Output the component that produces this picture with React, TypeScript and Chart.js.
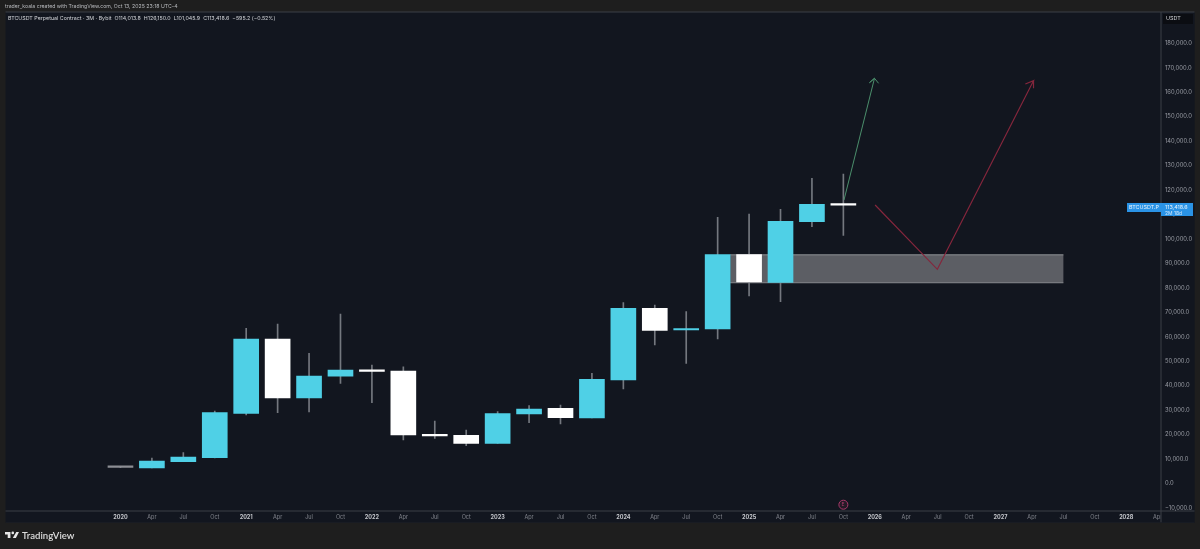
import React, { useEffect, useRef } from "react";
import { Chart, registerables } from "chart.js";

Chart.register(...registerables);

const W = 1200;
const H = 549;
const BLUE = "#4fd0e6";
const WHITE = "#ffffff";
const WICK = "#74787f";

// Quarterly candles, index 0 = the "2020" tick
const opens = [6300, 5930, 8500, 10140, 28300, 58690, 34560, 43440, 46010, 45600, 19710, 19300, 16030, 28020, 30350, 26380, 41920, 71250, 62370, 62780, 93170, 81880, 106680, 114013.8];
const highs = [6450, 10020, 12190, 29240, 63070, 64830, 52840, 68920, 48060, 47360, 25150, 21470, 28960, 31410, 31700, 44660, 73540, 72600, 69860, 108470, 109820, 111740, 124420, 126150];
const lows = [6050, 5930, 8500, 10100, 27600, 28550, 28830, 40570, 32640, 17380, 18080, 15050, 16030, 24460, 23930, 26380, 38240, 56240, 48750, 58690, 76280, 73950, 104620, 101045.9];
const closes = [6200, 8800, 10430, 28550, 58690, 34560, 43560, 46010, 45480, 19430, 19020, 16030, 28140, 30060, 26500, 42210, 71250, 62250, 62900, 93170, 82000, 106830, 113780, 113418.6];

const xTickLabels = ["2020", "Apr", "Jul", "Oct", "2021", "Apr", "Jul", "Oct", "2022", "Apr", "Jul", "Oct", "2023", "Apr", "Jul", "Oct", "2024", "Apr", "Jul", "Oct", "2025", "Apr", "Jul", "Oct", "2026", "Apr", "Jul", "Oct", "2027", "Apr", "Jul", "Oct", "2028", "Apr"];
const yTickValues = [180000, 170000, 160000, 150000, 140000, 130000, 120000, 110000, 100000, 90000, 80000, 70000, 60000, 50000, 40000, 30000, 20000, 10000, 0, -10000];

// Drawings, in axis units (quarter index, price)
const greenArrow = [
  { x: 23.02, y: 115540 },
  { x: 23.99, y: 165320 },
  { x: 23.83, y: 163520 },
  { x: 23.99, y: 165320 },
  { x: 24.12, y: 163270 },
];
const redArrow = [
  { x: 24.01, y: 113500 },
  { x: 25.99, y: 87200 },
  { x: 29.05, y: 164340 },
  { x: 28.79, y: 163000 },
  { x: 29.05, y: 164340 },
  { x: 29.05, y: 161230 },
];
const zone = { xStart: 19.4, xEnd: 30, top: 93300, bottom: 81700 };
const marker = [{ x: 23, y: -9080 }];
const lastPrice = "113,418.6";

const fmtPrice = (v: number) =>
  (v < 0 ? "\u2212" : "") + Math.abs(v).toLocaleString("en-US", { minimumFractionDigits: 1, maximumFractionDigits: 1 });

const FRAME = "#1e1e1e";
const PANEL = "#12161f";
const LINE = "#3b3e46";

const panelPlugin = {
  id: "panel",
  beforeDraw(chart: any) {
    const { ctx, chartArea: a } = chart;
    ctx.save();
    ctx.fillStyle = FRAME;
    ctx.fillRect(0, 0, W, H);
    ctx.fillStyle = PANEL;
    ctx.fillRect(a.left, a.top, 1194.5 - a.left, 522.5 - a.top);
    ctx.restore();
  },
  beforeDatasetsDraw(chart: any) {
    const { ctx, chartArea: a, scales } = chart;
    ctx.save();
    // right strip covers the clipped time label
    ctx.fillStyle = PANEL;
    ctx.fillRect(a.right, a.top, 1194.5 - a.right, 522.5 - a.top);
    ctx.fillStyle = LINE;
    ctx.fillRect(a.left, a.top - 0.5, 1194.5 - a.left, 1);
    ctx.fillRect(a.left, a.bottom, 1194.5 - a.left, 1);
    ctx.fillRect(a.right, a.top, 1, 522.5 - a.top);
    ctx.fillStyle = "#1b1f29";
    ctx.fillRect(a.left, 522, 1194.5 - a.left, 0.5);
    // USDT currency box
    ctx.fillStyle = "#0b0d12";
    ctx.fillRect(1163, 14, 30, 10);
    // zone
    const x0 = scales.x.getPixelForValue(zone.xStart);
    const x1 = scales.x.getPixelForValue(zone.xEnd);
    const y0 = scales.y.getPixelForValue(zone.top);
    const y1 = scales.y.getPixelForValue(zone.bottom);
    ctx.fillStyle = "#5c5e64";
    ctx.fillRect(x0, y0, x1 - x0, y1 - y0);
    ctx.fillStyle = "#86888d";
    ctx.fillRect(x0, y0, x1 - x0, 1);
    ctx.fillRect(x0, y1 - 0.5, x1 - x0, 1);
    ctx.restore();
  },
};

const textBase: React.CSSProperties = {
  position: "absolute",
  whiteSpace: "nowrap",
  fontFamily: "Inter, 'Liberation Sans', sans-serif",
  lineHeight: 1,
};

export default function App() {
  const ref = useRef<HTMLCanvasElement>(null);

  useEffect(() => {
    const idx = opens.map((_, i) => i);
    const bodyColors = idx.map((i) => (closes[i] >= opens[i] ? BLUE : WHITE));
    bodyColors[0] = "#8c8e94";
    const chart = new Chart(ref.current as HTMLCanvasElement, {
      type: "bar",
      data: {
        datasets: [
          {
            type: "bar",
            label: "Wick",
            order: 3,
            grouped: false,
            barThickness: 1,
            backgroundColor: WICK,
            data: idx.map((i) => ({ x: i, y: [lows[i], highs[i]] })),
          },
          {
            type: "bar",
            label: "Body",
            order: 2,
            grouped: false,
            barThickness: 25,
            minBarLength: 1.5,
            backgroundColor: bodyColors,
            data: idx.map((i) => ({ x: i, y: [opens[i], closes[i]] })),
          },
          {
            type: "line",
            label: "Bull path",
            order: 1,
            borderColor: "#4b8f6c",
            borderWidth: 1,
            pointRadius: 0,
            tension: 0,
            data: greenArrow,
          },
          {
            type: "line",
            label: "Bear path",
            order: 1,
            borderColor: "#84263c",
            borderWidth: 1.2,
            pointRadius: 0,
            tension: 0,
            data: redArrow,
          },
          {
            type: "line",
            label: "Marker",
            order: 0,
            showLine: false,
            pointStyle: "circle",
            pointRadius: 4.5,
            pointBorderWidth: 1,
            pointBorderColor: "#a83a6a",
            pointBackgroundColor: "#241a26",
            data: marker,
          },
        ] as any,
      },
      plugins: [panelPlugin],
      options: {
        animation: false,
        responsive: false,
        layout: { padding: { left: 5, top: 12, right: 5.5, bottom: 27 } },
        plugins: { legend: { display: false }, tooltip: { enabled: false } },
        events: [],
        scales: {
          x: {
            type: "linear",
            offset: false,
            min: -3.658,
            max: 33.09,
            grid: { display: false, drawTicks: false },
            border: { display: false },
            afterBuildTicks: (s: any) => {
              s.ticks = xTickLabels.map((_, i) => ({ value: i }));
            },
            afterFit: (s: any) => {
              s.height = 11.5;
            },
            ticks: {
              z: 0,
              autoSkip: false,
              maxRotation: 0,
              padding: 4,
              callback: (v: any) => xTickLabels[v],
              color: (c: any) => (/^\d/.test(xTickLabels[c.tick?.value] || "") ? "#c4c6cb" : "#83868e"),
              font: (c: any) => ({
                family: "Inter, 'Liberation Sans', sans-serif",
                size: 5.5,
                weight: /^\d/.test(xTickLabels[c.tick?.value] || "") ? "700" : "400",
              }),
            },
          },
          y: {
            type: "linear",
            position: "right",
            offset: false,
            min: -11450,
            max: 192430,
            grid: { display: false, drawTicks: false },
            border: { display: false },
            afterBuildTicks: (s: any) => {
              s.ticks = yTickValues.map((value) => ({ value }));
            },
            afterFit: (s: any) => {
              s.width = 34;
            },
            ticks: {
              z: 1,
              autoSkip: false,
              padding: 4.5,
              labelOffset: 1,
              callback: (v: any) => fmtPrice(Number(v)),
              color: "#9a9da5",
              font: { family: "Inter, 'Liberation Sans', sans-serif", size: 5.8 },
            },
          },
        },
      } as any,
    });
    return () => chart.destroy();
  }, []);

  return (
    <div style={{ position: "fixed", left: 0, top: 0, width: W, height: H, overflow: "hidden", background: FRAME }}>
      <canvas ref={ref} width={W} height={H} style={{ display: "block" }} />
      <div style={{ ...textBase, left: 5, top: 4, fontSize: 5.2, color: "#b9bbbf" }}>
        trader_koala created with TradingView.com, Oct 13, 2025 23:18 UTC-4
      </div>
      <div style={{ ...textBase, left: 8, top: 15.5, fontSize: 5.32, color: "#d3d5d9" }}>
        BTCUSDT Perpetual Contract · 3M · Bybit&nbsp;&nbsp;O114,013.8&nbsp;&nbsp;H126,150.0&nbsp;&nbsp;L101,045.9&nbsp;&nbsp;C113,418.6&nbsp;&nbsp;−595.2 (−0.52%)
      </div>
      <div style={{ ...textBase, left: 1166, top: 16, fontSize: 5.4, color: "#d3d5d9" }}>USDT</div>
      <div style={{ position: "absolute", left: 1127, top: 203, width: 33.5, height: 9, background: "#2a93e6" }} />
      <div style={{ position: "absolute", left: 1161, top: 203, width: 32, height: 13, background: "#2a93e6" }} />
      <div style={{ ...textBase, left: 1129, top: 205, fontSize: 5.4, color: "#e8f3fc" }}>BTCUSDT.P</div>
      <div style={{ ...textBase, left: 1165, top: 205, fontSize: 5.4, color: "#e8f3fc" }}>{lastPrice}</div>
      <div style={{ ...textBase, left: 1165, top: 210.5, fontSize: 5, color: "#cfe6f9" }}>2M 18d</div>
      <div style={{ ...textBase, left: 841.6, top: 502, fontSize: 5, color: "#a83a6a" }}>E</div>
      <svg style={{ position: "absolute", left: 5, top: 531 }} width="14" height="8" viewBox="0 0 36 20">
        <path fill="#e6e6e6" d="M0 2h14v16H7V9H0zM29 2h7l-8 16h-8zM20 8a3.4 3.4 0 1 0 0-6.8A3.4 3.4 0 0 0 20 8z" />
      </svg>
      <div style={{ ...textBase, left: 22, top: 530.5, fontSize: 9.6, fontWeight: 600, color: "#dcdcdc", fontFamily: "Lato, Inter, sans-serif" }}>
        TradingView
      </div>
    </div>
  );
}
